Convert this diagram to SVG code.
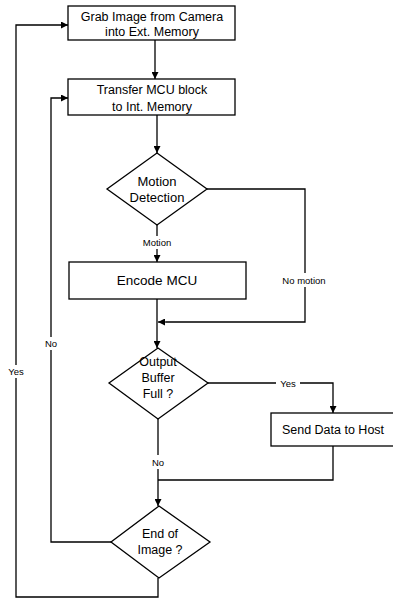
<svg xmlns="http://www.w3.org/2000/svg" width="393" height="599" viewBox="0 0 393 599">
<defs>
<marker id="ah" viewBox="0 0 10 10" refX="10" refY="5" markerWidth="7" markerHeight="7" markerUnits="userSpaceOnUse" orient="auto">
<path d="M0,0 L10,5 L0,10 z" fill="#000"/>
</marker>
<style>
.n{fill:#fff;stroke:#000;stroke-width:1.3}
.t{font-family:"Liberation Sans",Arial,sans-serif;font-size:12.5px;fill:#000;text-anchor:middle}
.l{font-family:"Liberation Sans",Arial,sans-serif;font-size:9.5px;fill:#000;text-anchor:middle}
.c{fill:none;stroke:#000;stroke-width:1.3}
.a{marker-end:url(#ah)}
</style>
</defs>
<rect width="393" height="599" fill="#fff"/>
<g id="connectors">
<path class="c a" d="M155,40 V79"/>
<path class="c a" d="M157,115 V153"/>
<path class="c" d="M157,225 V236"/>
<path class="c a" d="M157,249 V262"/>
<path class="c a" d="M157,299 V348"/>
<path class="c" d="M207,189 H305 V273"/>
<path class="c" d="M305,287 V322 H166"/>
<path class="c a" d="M166,322 H158"/>
<path class="c" d="M208,383 H276"/>
<path class="c a" d="M300,383 H333 V413"/>
<path class="c" d="M158,419 V455"/>
<path class="c a" d="M158,469 V506"/>
<path class="c" d="M333,446 V480 H158"/>
<path class="c" d="M111,542 H51 V350"/>
<path class="c a" d="M51,337 V98 H68"/>
<path class="c" d="M158,578 V597 H16 V378"/>
<path class="c a" d="M16,365 V25 H68"/>
</g>
<g id="grab">
<rect class="n" x="68" y="6" width="167" height="34"/>
<text class="t" x="152" y="20.5">Grab Image from Camera</text>
<text class="t" x="152" y="36">into Ext. Memory</text>
</g>
<g id="transfer">
<rect class="n" x="68" y="79" width="167" height="36"/>
<text class="t" x="152" y="94">Transfer MCU block</text>
<text class="t" x="152" y="111">to Int. Memory</text>
</g>
<g id="motion">
<polygon class="n" points="157,153 207,189 157,225 107,189"/>
<text class="t" x="157" y="185.5" style="font-size:13px">Motion</text>
<text class="t" x="157" y="201.5" style="font-size:13px">Detection</text>
</g>
<g id="encode">
<rect class="n" x="69" y="262" width="177" height="37"/>
<text class="t" x="157" y="285" style="font-size:13.5px">Encode MCU</text>
</g>
<g id="output">
<polygon class="n" points="158,348 208,383 158,419 109,383"/>
<text class="t" x="158" y="366">Output</text>
<text class="t" x="158" y="382">Buffer</text>
<text class="t" x="158" y="398">Full ?</text>
</g>
<g id="send">
<rect class="n" x="271" y="413" width="130" height="33"/>
<text class="t" x="333" y="434">Send Data to Host</text>
</g>
<g id="end">
<polygon class="n" points="159,506 210,542 159,578 111,542"/>
<text class="t" x="160" y="538">End of</text>
<text class="t" x="160" y="554">Image ?</text>
</g>
<g id="labels">
<text class="l" x="157" y="246">Motion</text>
<text class="l" x="304" y="283.5">No motion</text>
<text class="l" x="288" y="386.5">Yes</text>
<text class="l" x="158" y="465.5">No</text>
<text class="l" x="51" y="347">No</text>
<text class="l" x="16" y="374.5">Yes</text>
</g>
</svg>
